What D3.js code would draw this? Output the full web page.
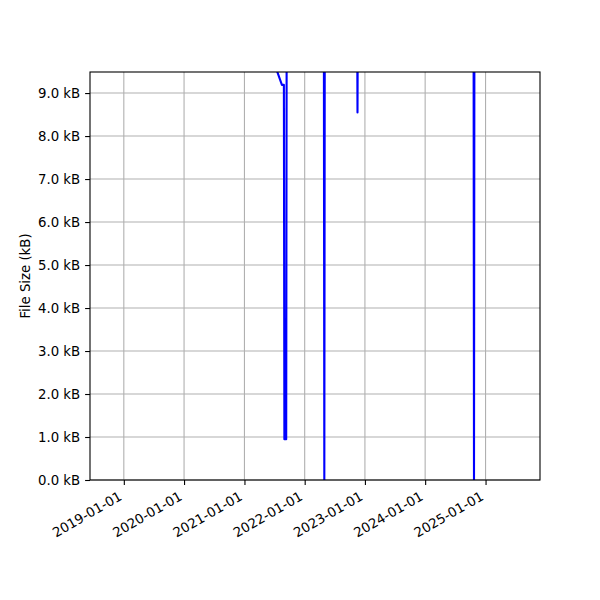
<!DOCTYPE html>
<html>
<head>
<meta charset="utf-8">
<script src="https://cdn.jsdelivr.net/npm/d3@7"></script>
<style>
  body { margin: 0; background: #fff; }
  text { font-family: "DejaVu Sans", sans-serif; }
</style>
</head>
<body>
<svg id="chart" width="600" height="600"></svg>
<script>
// file size over time (kB), values above the y limit are clipped
var dates = [
	"2018-10-12", "2019-04-01", "2019-11-15", "2020-06-10", "2021-01-20",
	"2021-06-08", "2021-08-16", "2021-08-28", "2021-08-31", "2021-09-11",
	"2021-09-14", "2022-04-27", "2022-04-30", "2022-05-03", "2022-11-14",
	"2022-11-17", "2022-11-20", "2023-06-01", "2024-02-10", "2024-10-20",
	"2024-10-23", "2024-10-26", "2025-07-26"
];
var sizes = [
	12.4, 12.9, 13.3, 13.8, 10.6,
	9.94, 9.19, 9.19, 0.95, 0.95,
	11.2, 11.6, 0.0, 11.7, 11.8,
	8.55, 11.9, 12.1, 12.6, 12.9,
	0.0, 13.0, 13.4
];
var yTicks = [0, 1, 2, 3, 4, 5, 6, 7, 8, 9];
var xTicks = ["2019-01-01", "2020-01-01", "2021-01-01", "2022-01-01", "2023-01-01", "2024-01-01", "2025-01-01"];

var parse = d3.timeParse("%Y-%m-%d");
var data = dates.map(function(d, i) { return { date: parse(d), size: sizes[i] }; });

var svg = d3.select("#chart");
var plotLeft = 90, plotRight = 540, plotTop = 72, plotBottom = 480;

// matplotlib-style 5% margins on the date range
var ext = d3.extent(data, function(d) { return d.date; });
var span = ext[1] - ext[0];
var x = d3.scaleTime()
	.domain([new Date(+ext[0] - span * 0.05), new Date(+ext[1] + span * 0.05)])
	.range([plotLeft, plotRight]);

var y = d3.scaleLinear()
	.domain([0, 9.49])
	.range([plotBottom, plotTop]);

// grid
svg.append("g")
	.selectAll("line")
	.data(xTicks)
	.enter()
	.append("line")
	.attr("x1", function(d) { return x(parse(d)); })
	.attr("x2", function(d) { return x(parse(d)); })
	.attr("y1", plotTop)
	.attr("y2", plotBottom)
	.attr("stroke", "#b0b0b0")
	.attr("stroke-width", 1.1);

svg.append("g")
	.selectAll("line")
	.data(yTicks)
	.enter()
	.append("line")
	.attr("x1", plotLeft)
	.attr("x2", plotRight)
	.attr("y1", function(d) { return y(d); })
	.attr("y2", function(d) { return y(d); })
	.attr("stroke", "#b0b0b0")
	.attr("stroke-width", 1.1);

// clip for the line
svg.append("clipPath")
	.attr("id", "plotClip")
	.append("rect")
	.attr("x", plotLeft)
	.attr("y", plotTop)
	.attr("width", plotRight - plotLeft)
	.attr("height", plotBottom - plotTop);

var line = d3.line()
	.x(function(d) { return x(d.date); })
	.y(function(d) { return y(d.size); });

svg.append("path")
	.datum(data)
	.attr("clip-path", "url(#plotClip)")
	.attr("d", line)
	.attr("fill", "none")
	.attr("stroke", "#0000ff")
	.attr("stroke-width", 2.1)
	.attr("stroke-linejoin", "round");

// axes
var xAxis = svg.append("g")
	.attr("transform", "translate(0," + plotBottom + ")")
	.call(d3.axisBottom(x)
		.tickValues(xTicks.map(parse))
		.tickSize(4.9)
		.tickPadding(0)
		.tickFormat(d3.timeFormat("%Y-%m-%d")));

xAxis.select(".domain").remove();
xAxis.selectAll(".tick line").attr("stroke", "#000").attr("stroke-width", 1.1);
xAxis.selectAll(".tick text")
	.attr("font-size", "13.3px")
	.attr("fill", "#000")
	.attr("text-anchor", "end")
	.attr("dy", null)
	.attr("y", 0)
	.attr("transform", "translate(-1.5,19) rotate(-30)");

var yAxis = svg.append("g")
	.attr("transform", "translate(" + plotLeft + ",0)")
	.call(d3.axisLeft(y)
		.tickValues(yTicks)
		.tickSize(4.9)
		.tickPadding(4.9)
		.tickFormat(function(d) { return d3.format(".1f")(d) + " kB"; }));

yAxis.select(".domain").remove();
yAxis.selectAll(".tick line").attr("stroke", "#000").attr("stroke-width", 1.1);
yAxis.selectAll(".tick text")
	.attr("font-size", "13.3px")
	.attr("fill", "#000");

// frame
svg.append("rect")
	.attr("x", plotLeft)
	.attr("y", plotTop)
	.attr("width", plotRight - plotLeft)
	.attr("height", plotBottom - plotTop)
	.attr("fill", "none")
	.attr("stroke", "#000")
	.attr("stroke-width", 1.1);

svg.append("text")
	.attr("transform", "translate(30," + ((plotTop + plotBottom) / 2) + ") rotate(-90)")
	.attr("text-anchor", "middle")
	.attr("font-size", "13.3px")
	.attr("fill", "#000")
	.text("File Size (kB)");
</script>
</body>
</html>
